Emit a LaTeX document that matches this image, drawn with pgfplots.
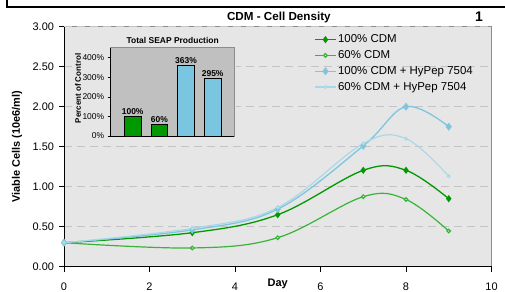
\documentclass[border=0pt]{standalone}
\usepackage{pgfplots}
\pgfplotsset{compat=1.18}
\usepackage{fontspec}
\setmainfont{Liberation Sans}
\definecolor{bgMain}{HTML}{E6E6E6}
\definecolor{borderGray}{HTML}{8C8C8C}
\definecolor{gridc}{HTML}{C4C4C4}
\definecolor{insetGray}{HTML}{C0C0C0}
\definecolor{greenA}{HTML}{009900}
\definecolor{greenB}{HTML}{38B438}
\definecolor{blueA}{HTML}{7EC6DE}
\definecolor{blueB}{HTML}{A6D8EA}
\definecolor{barGreen}{HTML}{009A00}
\definecolor{barBlue}{HTML}{7AC6E0}
\pgfplotsset{every axis title shift=0pt}
\begin{document}
\begin{tikzpicture}
\path[use as bounding box] (0bp,0bp) rectangle (505bp,292bp);
\draw[line width=1.5bp] (7bp,292bp) -- (7bp,285bp) -- (505bp,285bp);
\begin{axis}[
  at={(64bp,25.3bp)}, anchor=south west, scale only axis,
  width=427.5bp, height=240bp,
  xmin=0, xmax=10, ymin=0, ymax=3,
  xtick={0,2,4,6,8,10}, ytick={0,0.5,1,1.5,2,2.5,3},
  axis x line*=bottom, axis y line*=left,
  axis line style={black, line width=0.8bp},
  axis background/.style={fill=bgMain, draw=borderGray, line width=0.8bp},
  tick align=outside, major tick length=5bp,
  tick style={black, line width=0.8bp},
  ymajorgrids, major grid style={draw=gridc, dash pattern=on 8bp off 5bp, line width=0.9bp},
  /pgf/number format/assume math mode=true,
  ticklabel style={font=\fontsize{11}{13}\selectfont},
  xticklabel style={yshift=-8bp},
  yticklabel style={xshift=-1.5bp, /pgf/number format/.cd, fixed, fixed zerofill, precision=2},
  title={CDM - Cell Density},
  title style={font=\bfseries\fontsize{11.7}{14}\selectfont, at={(axis description cs:0.5025,1.0446)}, anchor=center, yshift=-1.8bp},
  ylabel={Viable Cells (10e6/ml)},
  ylabel style={font=\bfseries\fontsize{11}{13}\selectfont, at={(axis description cs:-0.11,0.5)}, anchor=center},
  xlabel={Day},
  xlabel style={font=\bfseries\fontsize{11}{13}\selectfont, at={(axis description cs:0.5,0)}, anchor=center, yshift=-17.3bp},
  legend image code/.code={\draw[mark repeat=2,mark phase=2,#1] plot coordinates {(0bp,0bp)(10.5bp,0bp)(21bp,0bp)};},
  legend style={draw=none, fill=none, font=\fontsize{11.5}{13}\selectfont, at={(axis description cs:0.585,0.975)}, anchor=north west, inner sep=0pt, row sep=2.3bp, nodes={inner sep=1.5bp, text height=8.5bp, text depth=2bp}},
  legend cell align=left,
]
\addplot[color=greenA, line width=1.3bp, smooth, tension=0.6, mark=diamond*, mark size=2.6bp] coordinates {(0,0.30)(3,0.425)(5,0.65)(7,1.205)(8,1.205)(9,0.85)};
\addlegendentry{100\% CDM}
\addplot[color=greenB, line width=1.2bp, smooth, tension=0.6, mark=*, mark size=1.8bp, mark options={fill=white}] coordinates {(0,0.30)(3,0.234)(5,0.3625)(7,0.875)(8,0.84)(9,0.446)};
\addlegendentry{60\% CDM}
\addplot[color=blueA, line width=1.3bp, smooth, tension=0.6, mark=diamond*, mark size=3bp] coordinates {(0,0.30)(3,0.46)(5,0.72)(7,1.51)(8,2.0)(9,1.75)};
\addlegendentry{100\% CDM + HyPep 7504}
\addplot[color=blueB, line width=1.1bp, smooth, tension=0.6, mark=*, mark size=1.4bp, mark options={fill=white}] coordinates {(0,0.30)(3,0.48)(5,0.74)(7,1.54)(8,1.6)(9,1.13)};
\addlegendentry{60\% CDM + HyPep 7504}
\end{axis}
\fill[bgMain] (74bp,148bp) rectangle (236bp,264.5bp);
\begin{axis}[
  at={(110.7bp,156bp)}, anchor=south west, scale only axis,
  width=123.3bp, height=88.3bp,
  xmin=-0.825, xmax=3.8, ymin=0, ymax=4.52,
  axis background/.style={fill=insetGray, draw=borderGray, line width=0.8bp},
  axis x line*=bottom, axis y line*=left,
  axis line style={black, line width=0.8bp},
  xtick=\empty, ytick={0,1,2,3,4},
  yticklabels={0\%,100\%,200\%,300\%,400\%},
  tick align=outside, major tick length=3bp,
  tick style={black, line width=0.8bp},
  ticklabel style={font=\fontsize{8.5}{10}\selectfont},
  ybar, bar width=16.7bp,
  title={Total SEAP Production},
  title style={font=\bfseries\fontsize{8.5}{10}\selectfont, at={(axis description cs:0.503,1.087)}, anchor=center, yshift=0pt},
  ylabel={Percent of Control},
  ylabel style={font=\bfseries\fontsize{8}{10}\selectfont, at={(axis description cs:-0.265,0.538)}, anchor=center},
  nodes near coords, point meta=explicit symbolic,
  nodes near coords style={font=\bfseries\fontsize{8.5}{10}\selectfont, anchor=south, inner sep=1.5bp, text=black},
]
\addplot[fill=barGreen, draw=black, line width=0.8bp, bar shift=0pt] coordinates {(0,1.00)[100\%] (1,0.60)[60\%]};
\addplot[fill=barBlue, draw=black, line width=0.8bp, bar shift=0pt] coordinates {(2,3.63)[363\%] (3,2.95)[295\%]};
\end{axis}
\node[font=\bfseries\fontsize{14}{16}\selectfont] at (479bp,275bp) {1};
\end{tikzpicture}
\end{document}
